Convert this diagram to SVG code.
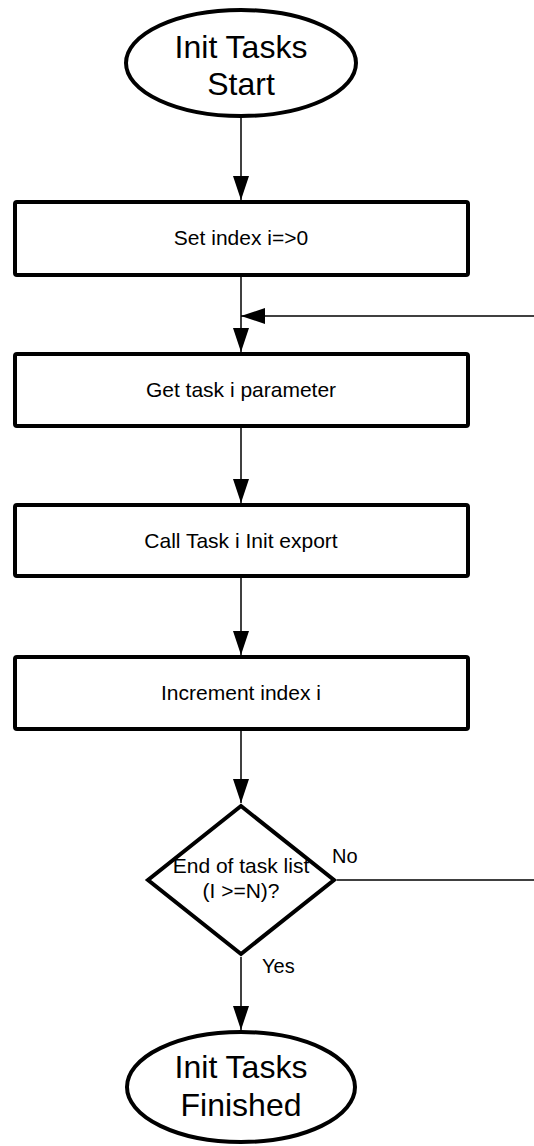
<svg xmlns="http://www.w3.org/2000/svg" width="534" height="1146" viewBox="0 0 534 1146">
<style>
.shape{fill:#fff;stroke:#000;stroke-width:4}
.conn{fill:none;stroke:#000;stroke-width:1.5}
.big{font-family:"Liberation Sans",Arial,sans-serif;font-size:32px;fill:#000;text-anchor:middle}
.txt{font-family:"Liberation Sans",Arial,sans-serif;font-size:21px;fill:#000;text-anchor:middle}
.lbl{font-family:"Liberation Sans",Arial,sans-serif;font-size:20px;fill:#000}
</style>
<defs>
<marker id="arr" viewBox="0 0 24 16" refX="24" refY="8" markerWidth="24" markerHeight="16" markerUnits="userSpaceOnUse" orient="auto">
<path d="M0,0 L24,8 L0,16 z" fill="#000"/>
</marker>
</defs>
<rect width="534" height="1146" fill="#fff"/>
<g id="connectors">
<line class="conn" x1="241" y1="118" x2="241" y2="200" marker-end="url(#arr)"/>
<line class="conn" x1="241" y1="277" x2="241" y2="352" marker-end="url(#arr)"/>
<line class="conn" x1="534" y1="316" x2="241" y2="316" marker-end="url(#arr)"/>
<line class="conn" x1="241" y1="428" x2="241" y2="503" marker-end="url(#arr)"/>
<line class="conn" x1="241" y1="578" x2="241" y2="655" marker-end="url(#arr)"/>
<line class="conn" x1="241" y1="731" x2="241" y2="803" marker-end="url(#arr)"/>
<line class="conn" x1="241" y1="957" x2="241" y2="1030" marker-end="url(#arr)"/>
<line class="conn" x1="337" y1="880" x2="534" y2="880"/>
<text class="lbl" x="332" y="863">No</text>
<text class="lbl" x="262" y="973">Yes</text>
</g>
<g id="start">
<ellipse class="shape" cx="241" cy="63" rx="115" ry="53"/>
<text class="big" x="241" y="58">Init Tasks</text>
<text class="big" x="241" y="95">Start</text>
</g>
<g id="setIndex">
<rect class="shape" x="15" y="202" width="453" height="73" rx="2"/>
<text class="txt" x="241" y="245">Set index i=&gt;0</text>
</g>
<g id="getParam">
<rect class="shape" x="15" y="354" width="453" height="72" rx="2"/>
<text class="txt" x="241" y="397">Get task i parameter</text>
</g>
<g id="callInit">
<rect class="shape" x="15" y="505" width="453" height="71" rx="2"/>
<text class="txt" x="241" y="548">Call Task i Init export</text>
</g>
<g id="increment">
<rect class="shape" x="15" y="657" width="453" height="72" rx="2"/>
<text class="txt" x="241" y="700">Increment index i</text>
</g>
<g id="decision">
<polygon class="shape" points="241,806 334,880 241,954 148,880"/>
<text class="txt" x="241" y="873">End of task list</text>
<text class="txt" x="241" y="898">(I &gt;=N)?</text>
</g>
<g id="finish">
<ellipse class="shape" cx="241" cy="1087" rx="114" ry="55"/>
<text class="big" x="241" y="1078">Init Tasks</text>
<text class="big" x="241" y="1116">Finished</text>
</g>
</svg>
